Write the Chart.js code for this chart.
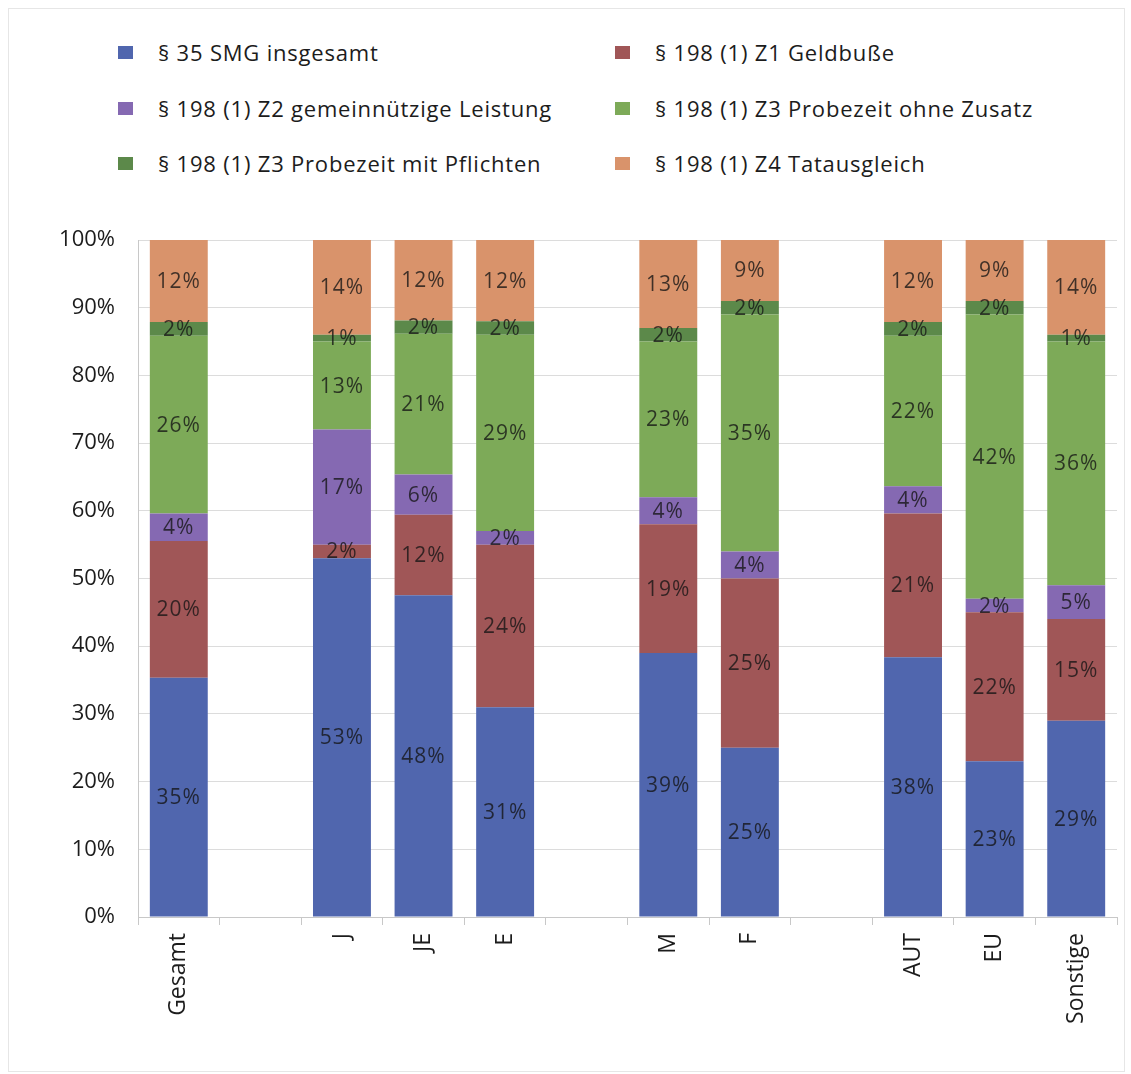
<!DOCTYPE html>
<html>
<head>
<meta charset="utf-8">
<script src="https://cdn.jsdelivr.net/npm/chart.js@4.4.1/dist/chart.umd.min.js"></script>
<style>
  body { margin: 0; background: #fff; font-family: "Open Sans", sans-serif; }
  #frame { position: absolute; left: 8px; top: 8px; width: 1115px; height: 1062px; border: 1px solid #e6e6e6; }
  #legend { position: absolute; left: 0; top: 0; width: 1131px; height: 200px; }
  .item { position: absolute; display: flex; align-items: center; font-size: 22px; letter-spacing: 0.8px; color: #1c1c1c; white-space: nowrap; }
  .box { width: 15px; height: 13px; margin-right: 25px; }
  #wrap { position: absolute; left: 0; top: 200px; width: 1131px; height: 870px; }
</style>
</head>
<body>
<div id="frame"></div>
<div id="legend"></div>
<div id="wrap"><canvas id="chart"></canvas></div>
<script>
// Categories (empty strings are spacer slots between the groups)
const categories = ["Gesamt", "", "J", "JE", "E", "", "M", "F", "", "AUT", "EU", "Sonstige"];

const seriesNames = [
    "§ 35 SMG insgesamt",
    "§ 198 (1) Z1 Geldbuße",
    "§ 198 (1) Z2 gemeinnützige Leistung",
    "§ 198 (1) Z3 Probezeit ohne Zusatz",
    "§ 198 (1) Z3 Probezeit mit Pflichten",
    "§ 198 (1) Z4 Tatausgleich"
];

// Shares in percent per category
const smg35        = [35, null, 53, 48, 31, null, 39, 25, null, 38, 23, 29];
const geldbusse    = [20, null, 2, 12, 24, null, 19, 25, null, 21, 22, 15];
const gemeinnuetz  = [4, null, 17, 6, 2, null, 4, 4, null, 4, 2, 5];
const probezeit    = [26, null, 13, 21, 29, null, 23, 35, null, 22, 42, 36];
const probezeitPfl = [2, null, 1, 2, 2, null, 2, 2, null, 2, 2, 1];
const tatausgleich = [12, null, 14, 12, 12, null, 13, 9, null, 12, 9, 14];

const yTicks = [0, 10, 20, 30, 40, 50, 60, 70, 80, 90, 100];

const colors = ["#5066ae", "#a05657", "#8569b2", "#7daa58", "#5c894a", "#d9936b"];

const series = [smg35, geldbusse, gemeinnuetz, probezeit, probezeitPfl, tatausgleich];

// 100% stacked: scale each column to its own total
const totals = categories.map((c, i) => series.reduce((acc, s) => acc + (s[i] || 0), 0));

const datasets = series.map((values, k) => ({
    label: seriesNames[k],
    raw: values,
    data: values.map((v, i) => v === null ? null : v / totals[i] * 100),
    backgroundColor: colors[k],
    borderWidth: 0,
    barPercentage: 0.71,
    categoryPercentage: 1
}));

// Legend in two columns
const legend = document.getElementById("legend");
const legendPos = [[118, 53], [615, 53], [118, 109], [615, 109], [118, 164], [615, 164]];
seriesNames.forEach((name, k) => {
    const item = document.createElement("div");
    item.className = "item";
    item.style.left = legendPos[k][0] + "px";
    item.style.top = (legendPos[k][1] - 16) + "px";
    item.innerHTML = '<span class="box" style="background:' + colors[k] + '"></span>' + name;
    legend.appendChild(item);
});

// Value labels in the middle of each segment
const segmentLabels = {
    id: "segmentLabels",
    afterDatasetsDraw(chart) {
        const ctx = chart.ctx;
        ctx.save();
        ctx.font = "21px 'Open Sans'";
        ctx.letterSpacing = "1px";
        ctx.fillStyle = "rgba(20, 20, 20, 0.78)";
        ctx.textAlign = "center";
        ctx.textBaseline = "middle";
        chart.data.datasets.forEach((ds, k) => {
            const meta = chart.getDatasetMeta(k);
            meta.data.forEach((bar, i) => {
                const v = ds.raw[i];
                if (v === null) return;
                ctx.fillText(v + "%", bar.x, (bar.y + bar.base) / 2 + 1);
            });
        });
        ctx.restore();
    }
};

new Chart(document.getElementById("chart"), {
    type: "bar",
    data: { labels: categories, datasets: datasets },
    plugins: [segmentLabels],
    options: {
        responsive: true,
        maintainAspectRatio: false,
        animation: false,
        layout: { padding: { top: 40, right: 14, left: 0, bottom: 0 } },
        plugins: {
            legend: { display: false },
            tooltip: { enabled: false }
        },
        scales: {
            x: {
                stacked: true,
                grid: { offset: true, drawOnChartArea: false, drawTicks: true, tickLength: 8, color: "#c8c8c8" },
                border: { color: "#c8c8c8" },
                ticks: {
                    minRotation: 90,
                    maxRotation: 90,
                    padding: 8,
                    color: "#1c1c1c",
                    font: { family: "Open Sans", size: 23 }
                },
                afterFit: (s) => { s.height = 153; }
            },
            y: {
                stacked: true,
                min: 0,
                max: 100,
                afterBuildTicks: (s) => { s.ticks = yTicks.map(v => ({ value: v })); },
                grid: { color: "#dcdcdc", drawTicks: false },
                border: { color: "#c8c8c8" },
                ticks: {
                    padding: 23,
                    color: "#1c1c1c",
                    font: { family: "Open Sans", size: 22 },
                    callback: (v) => v + "%"
                },
                afterFit: (s) => { s.width = 138; }
            }
        }
    }
});
</script>
</body>
</html>
